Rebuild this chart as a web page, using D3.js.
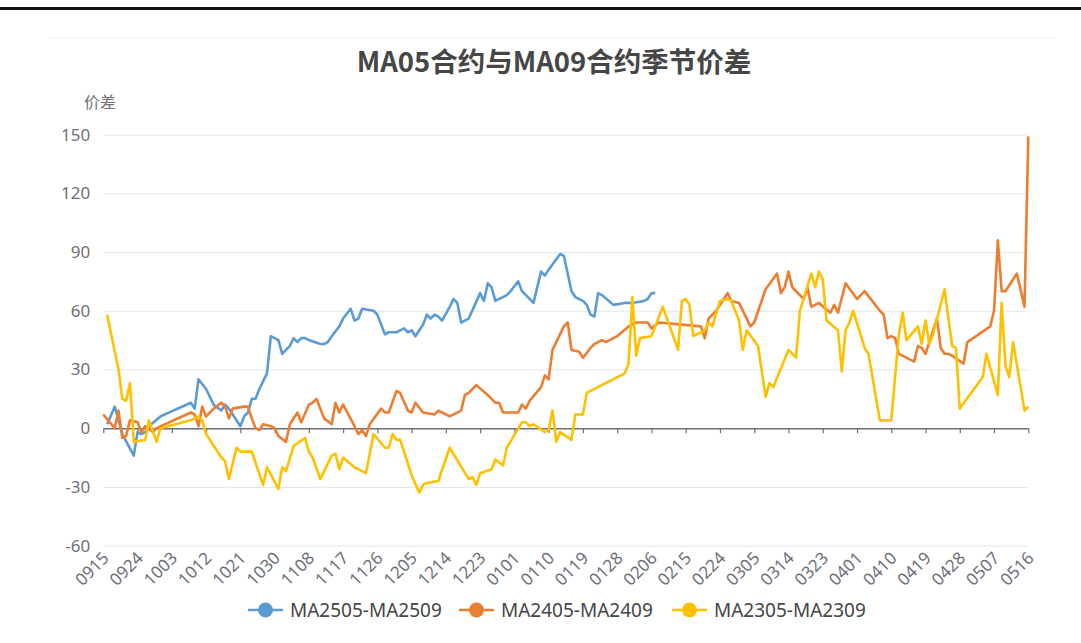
<!DOCTYPE html>
<html>
<head>
<meta charset="utf-8">
<script src="https://cdn.jsdelivr.net/npm/d3@7"></script>
<style>
  body { margin: 0; background: #fff; }
  svg { display: block; font-family: "Noto Sans", "Noto Sans CJK SC", sans-serif; }
</style>
</head>
<body>
<svg id="chart" width="1081" height="643"></svg>
<script>
// daily categories 0915 .. 0516 (season axis, non-leap year)
var categories = d3.timeDay.range(new Date(2022, 8, 15), new Date(2023, 4, 17)).map(d3.timeFormat("%m%d"));
var tickLabels = ["0915","0924","1003","1012","1021","1030","1108","1117","1126","1205","1214","1223",
  "0101","0110","0119","0128","0206","0215","0224","0305","0314","0323","0401","0410","0419","0428","0507","0516"];
var yTicks = [-60, -30, 0, 30, 60, 90, 120, 150];
var seriesNames = ["MA2505-MA2509", "MA2405-MA2409", "MA2305-MA2309"];
var seriesColors = ["#5B9BD5", "#ED7D31", "#FFC000"];

var ma2505 = [["0916",2],["0918",11],["0920",-3],["0923",-14],["0924",-2],["0925",-3],["0926",-2],["0927",1],["0930",6],
  ["1008",13],["1009",10],["1010",25],["1012",20],["1014",12],["1016",9],["1017",12],["1018",10],["1021",1],["1022",6],
  ["1023",8],["1024",15],["1025",15],["1026",20],["1028",28],["1029",47],["1030",46],["1031",45],["1101",38],["1102",40],
  ["1103",42],["1104",46],["1105",44],["1106",46],["1107",46],["1108",45],["1111",43],["1112",43],["1113",44],["1114",47],
  ["1116",52],["1117",56],["1119",61],["1120",55],["1121",56],["1122",61],["1125",60],["1126",58],["1128",48],["1129",49],
  ["1201",49],["1202",50],["1203",51],["1204",49],["1205",50],["1206",47],["1208",53],["1209",58],["1210",56],["1211",58],
  ["1212",57],["1213",55],["1215",62],["1216",66],["1217",64],["1218",54],["1220",56],["1223",69],["1224",65],["1225",74],
  ["1226",72],["1227",65],["1230",68],["1231",70],["0102",75],["0103",70],["0106",64],["0108",80],["0109",78],["0110",81],
  ["0113",89],["0114",88],["0116",70],["0117",67],["0119",65],["0120",63],["0121",58],["0122",57],["0123",69],["0124",68],
  ["0127",63],["0130",64],["0201",64],["0204",65],["0205",66],["0206",69],["0207",69]];

var ma2405 = [["0915",7],["0918",0],["0919",9],["0920",-5],["0921",-4],["0922",4],["0924",3],["0925",-2],["0926",1],["0928",-2],
  ["0929",0],["1008",8],["1009",7],["1010",1],["1011",11],["1012",6],["1014",10],["1016",13],["1017",11],["1018",5],["1019",10],
  ["1022",11],["1023",11],["1024",5],["1025",0],["1026",-1],["1027",2],["1029",1],["1030",0],["1031",-4],["1102",-7],["1103",2],
  ["1105",8],["1106",3],["1108",12],["1109",13],["1110",15],["1112",5],["1114",2],["1115",13],["1116",8],["1117",12],["1120",1],
  ["1121",-3],["1122",-1],["1123",-4],["1124",2],["1127",10],["1128",8],["1129",8],["1201",19],["1202",18],["1204",9],["1205",8],
  ["1206",13],["1208",8],["1211",7],["1212",9],["1213",8],["1215",6],["1218",9],["1219",17],["1220",18],["1222",22],["1225",17],
  ["1226",15],["1227",13],["1228",13],["1229",8],["0102",8],["0103",12],["0104",10],["0105",14],["0108",21],["0109",27],["0110",25],
  ["0111",40],["0114",52],["0115",54],["0116",40],["0118",39],["0119",36],["0121",41],["0122",43],["0124",45],["0125",44],["0128",47],
  ["0131",52],["0202",54],["0205",54],["0206",51],["0208",54],["0219",52],["0220",46],["0221",56],["0223",60],["0225",66],["0226",69],
  ["0227",65],["0301",64],["0304",52],["0305",54],["0308",71],["0311",79],["0312",69],["0313",72],["0314",80],["0315",72],["0318",66],
  ["0319",72],["0320",62],["0322",64],["0325",59],["0326",63],["0327",59],["0329",74],["0401",66],["0403",70],["0407",60],["0408",58],
  ["0409",46],["0410",47],["0411",46],["0412",38],["0415",35],["0416",34],["0417",42],["0418",41],["0419",38],["0422",56],["0423",41],
  ["0424",38],["0425",38],["0426",37],["0429",33],["0430",44],["0506",52],["0507",60],["0508",96],["0509",70],["0510",70],["0513",79],
  ["0515",62],["0516",149]];

var ma2305 = [["0916",58],["0919",30],["0920",15],["0921",14],["0922",23],["0923",-7],["0926",-6],["0927",4],["0929",-7],["0930",0],
  ["1008",4],["1010",6],["1011",4],["1012",-3],["1014",-9],["1015",-12],["1016",-15],["1017",-17],["1018",-26],["1020",-10],["1021",-12],
  ["1024",-12],["1027",-29],["1028",-20],["1031",-31],["1101",-20],["1102",-22],["1104",-9],["1107",-5],["1108",-12],["1109",-15],
  ["1111",-26],["1114",-14],["1115",-13],["1116",-21],["1117",-15],["1120",-20],["1123",-23],["1125",-3],["1128",-10],["1129",-10],
  ["1130",-3],["1201",-6],["1202",-6],["1205",-24],["1207",-33],["1208",-29],["1209",-28],["1212",-27],["1215",-10],["1220",-26],
  ["1221",-25],["1222",-29],["1223",-23],["1226",-21],["1227",-16],["1229",-19],["1230",-10],["0103",3],["0104",3],["0105",1],["0106",2],
  ["0109",-2],["0110",-1],["0111",9],["0112",-7],["0113",-2],["0116",-6],["0117",7],["0119",7],["0120",18],["0130",28],["0131",33],
  ["0201",67],["0202",37],["0203",46],["0206",47],["0207",52],["0209",62],["0213",40],["0214",65],["0215",66],["0216",63],["0217",47],
  ["0220",50],["0221",54],["0222",52],["0224",65],["0226",66],["0227",65],["0301",55],["0302",40],["0303",50],["0306",42],["0308",16],
  ["0309",23],["0310",21],["0314",40],["0316",36],["0317",60],["0320",79],["0321",72],["0322",80],["0323",76],["0324",55],["0327",50],
  ["0328",29],["0329",50],["0330",54],["0331",60],["0403",41],["0404",38],["0407",4],["0410",4],["0412",48],["0413",59],["0414",45],
  ["0417",52],["0418",43],["0419",55],["0420",43],["0421",48],["0424",71],["0426",42],["0427",41],["0428",10],["0504",26],["0505",38],
  ["0508",17],["0509",64],["0510",32],["0511",26],["0512",44],["0515",9],["0516",11]];

var allSeries = [ma2505, ma2405, ma2305];

var svg = d3.select("#chart");
var plotLeft = 103.3, plotRight = 1028.3, plotTop = 134.6, plotBottom = 545.6;

var x = d3.scalePoint().domain(categories).range([plotLeft, plotRight]);
var y = d3.scaleLinear().domain([-60, 150]).range([plotBottom, plotTop]);

// frame bits from the screenshot
svg.append("rect").attr("x", 0).attr("y", 7).attr("width", 1081).attr("height", 3).attr("fill", "#111");
svg.append("line").attr("x1", 48).attr("x2", 1055).attr("y1", 37.5).attr("y2", 37.5).attr("stroke", "#f2f2f2");

// title
svg.append("text")
  .attr("x", 554).attr("y", 60)
  .attr("text-anchor", "middle").attr("dominant-baseline", "central")
  .style("font-family", "'Noto Sans CJK SC', sans-serif")
  .style("font-weight", "bold").style("font-size", "27.5px").attr("fill", "#464646")
  .text("MA05合约与MA09合约季节价差");

// y axis name
svg.append("text").attr("x", 100).attr("y", 101)
  .attr("text-anchor", "middle").attr("dominant-baseline", "central")
  .style("font-family", "'Noto Sans CJK SC', sans-serif")
  .style("font-size", "16px").attr("fill", "#6E7079").text("价差");

// grid lines + y labels (plain hyphen for negatives)
var yAxis = d3.axisLeft(y).tickValues(yTicks).tickSize(-(plotRight - plotLeft)).tickPadding(13)
  .tickFormat(function(d) { return String(d); });
var gy = svg.append("g").attr("transform", "translate(" + plotLeft + ",0)").call(yAxis);
gy.select(".domain").remove();
gy.selectAll(".tick line").attr("stroke", "#E0E6F1");
gy.selectAll(".tick text").attr("fill", "#6E7079").style("font-size", "17px").style("font-family", "'Noto Sans', sans-serif");

// x axis line on zero with ticks
var xAxis = d3.axisBottom(x).tickValues(tickLabels).tickSize(5).tickSizeOuter(0).tickFormat("");
var gx = svg.append("g").attr("transform", "translate(0," + y(0) + ")").call(xAxis);
gx.select(".domain").attr("stroke", "#6E7079").attr("stroke-width", 1.5);
gx.selectAll(".tick line").attr("stroke", "#6E7079").attr("stroke-width", 1.2);

// x labels at the bottom of the grid, rotated
svg.append("g").selectAll("text").data(tickLabels).join("text")
  .attr("transform", function(d) { return "translate(" + (x(d) + 2) + "," + (plotBottom + 9) + ") rotate(-45)"; })
  .attr("text-anchor", "end").attr("dominant-baseline", "central")
  .attr("fill", "#6E7079").style("font-size", "17px")
  .text(function(d) { return d; });

// lines
var line = d3.line()
  .x(function(d) { return x(d[0]); })
  .y(function(d) { return y(d[1]); });

svg.append("g").selectAll("path").data(allSeries).join("path")
  .attr("d", line)
  .attr("fill", "none")
  .attr("stroke", function(d, i) { return seriesColors[i]; })
  .attr("stroke-width", 2.6)
  .attr("stroke-linejoin", "round");

// legend
var legendX = [248, 459, 672];
var legend = svg.append("g").selectAll("g").data(seriesNames).join("g")
  .attr("transform", function(d, i) { return "translate(" + legendX[i] + ",610)"; });
legend.append("line").attr("x1", 0).attr("x2", 35).attr("y1", 0).attr("y2", 0)
  .attr("stroke", function(d, i) { return seriesColors[i]; }).attr("stroke-width", 2.6);
legend.append("circle").attr("cx", 17.5).attr("cy", 0).attr("r", 7.5)
  .attr("fill", function(d, i) { return seriesColors[i]; });
legend.append("text").attr("x", 42).attr("y", 0).attr("dominant-baseline", "central")
  .attr("fill", "#464646").style("font-size", "19px")
  .text(function(d) { return d; });
</script>
</body>
</html>
